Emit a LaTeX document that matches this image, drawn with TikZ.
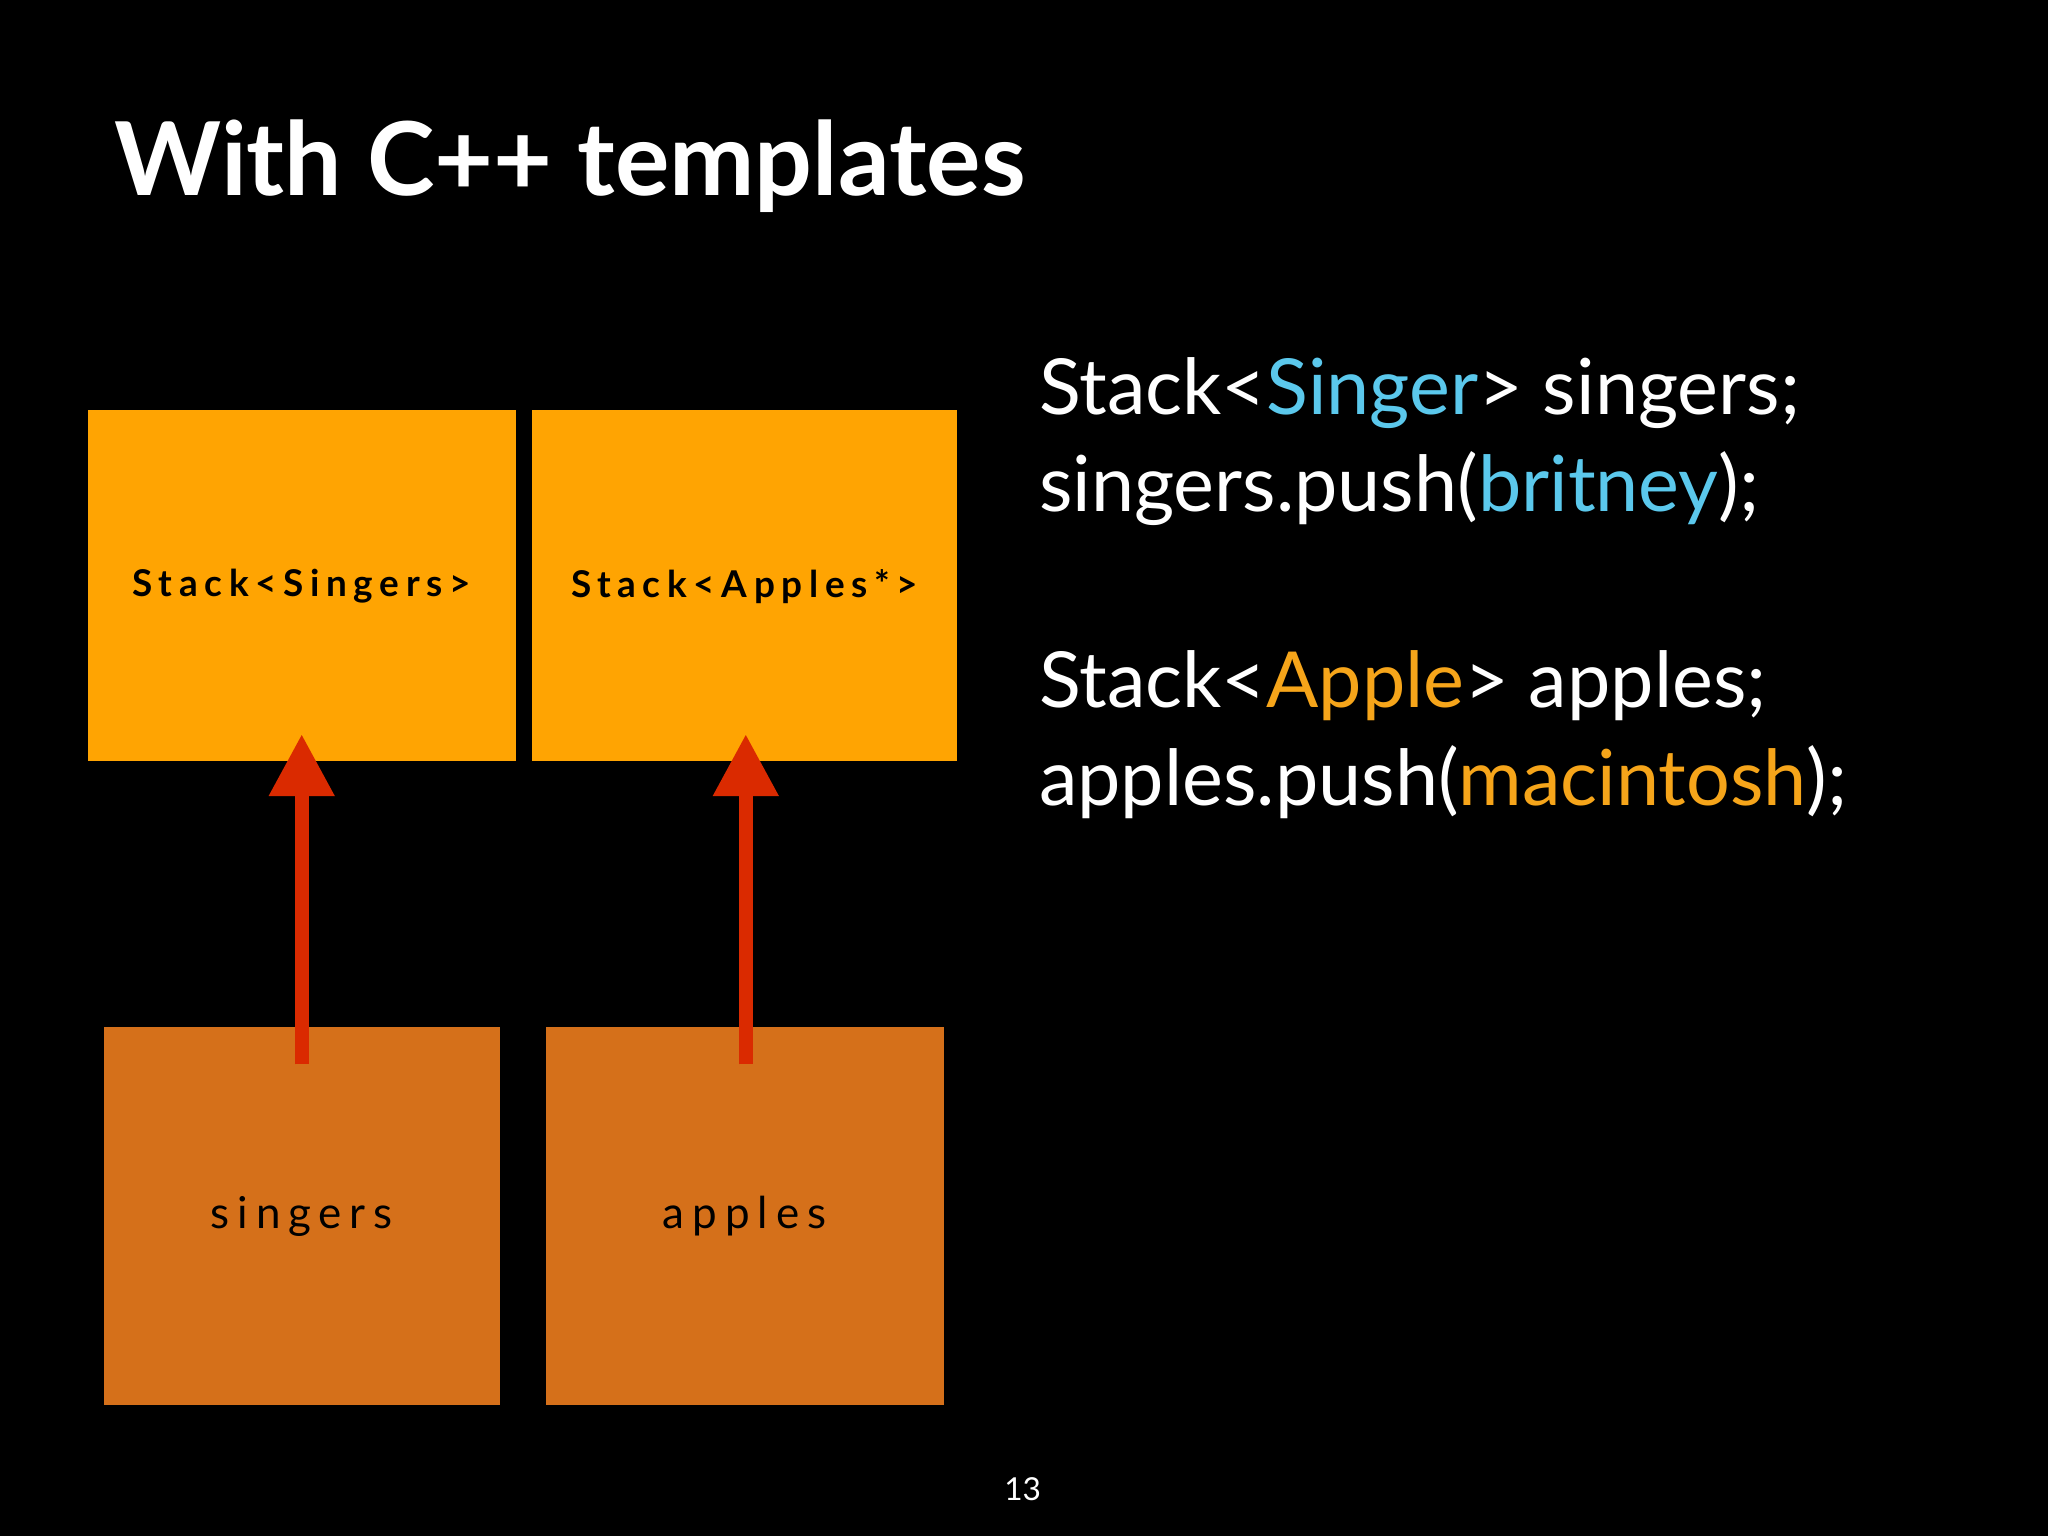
\documentclass[tikz,border=0pt]{standalone}
\usepackage{fontspec}
\setmainfont{Lato}
\newfontfamily\spaced[LetterSpace=18]{Lato}
\usetikzlibrary{arrows.meta}
\definecolor{topor}{HTML}{FFA402}
\definecolor{botor}{HTML}{D5701A}
\definecolor{arr}{HTML}{DA2A00}
\definecolor{cy}{HTML}{5BC8EC}
\definecolor{yo}{HTML}{F6A51A}
\begin{document}
\begin{tikzpicture}[x=0.01306cm,y=-0.01306cm,
  topbox/.style={fill=topor,draw=none},
  botbox/.style={fill=botor,draw=none},
  up/.style={draw=arr,line width=0.14cm,-{Triangle[length=0.62cm,width=0.62cm]}},
  code/.style={anchor=base west,text=white,font=\fontsize{22}{26}\selectfont,inner sep=0}]
\fill[black] (0,0) rectangle (1568,1176);
\useasboundingbox (0,0) rectangle (1568,1176);
\node[anchor=base west,text=white,font=\fontsize{29}{34}\selectfont\bfseries,inner sep=0] (title) at (87,150) {With C++ templates};
\fill[topbox] (67,314) rectangle (395,583);
\fill[topbox] (407,314) rectangle (733,583);
\fill[botbox] (80,786) rectangle (383,1076);
\fill[botbox] (418,786) rectangle (723,1076);
\node[font=\spaced\fontsize{10.5}{12}\selectfont\bfseries] (t1) at (231,449) {Stack<Singers>};
\node[font=\spaced\fontsize{10.5}{12}\selectfont\bfseries] (t2) at (570,449) {Stack<Apples*>};
\node[font=\spaced\fontsize{12.5}{14}\selectfont] (b1) at (231,931) {singers};
\node[font=\spaced\fontsize{12.5}{14}\selectfont] (b2) at (570,931) {apples};
\coordinate (s1) at (231,815); \coordinate (e1) at (231,562);
\coordinate (s2) at (571,815); \coordinate (e2) at (571,562);
\draw[up] (s1) -- (e1);
\draw[up] (s2) -- (e2);
\node[code] (c1) at (795,317) {Stack<\textcolor{cy}{Singer}> singers;};
\node[code] (c2) at (795,392) {singers.push(\textcolor{cy}{britney});};
\node[code] (c3) at (795,542) {Stack<\textcolor{yo}{Apple}> apples;};
\node[code] (c4) at (795,617) {apples.push(\textcolor{yo}{macintosh});};
\node[text=white,font=\fontsize{9}{10}\selectfont] (pg) at (783,1140) {13};
\end{tikzpicture}
\end{document}
